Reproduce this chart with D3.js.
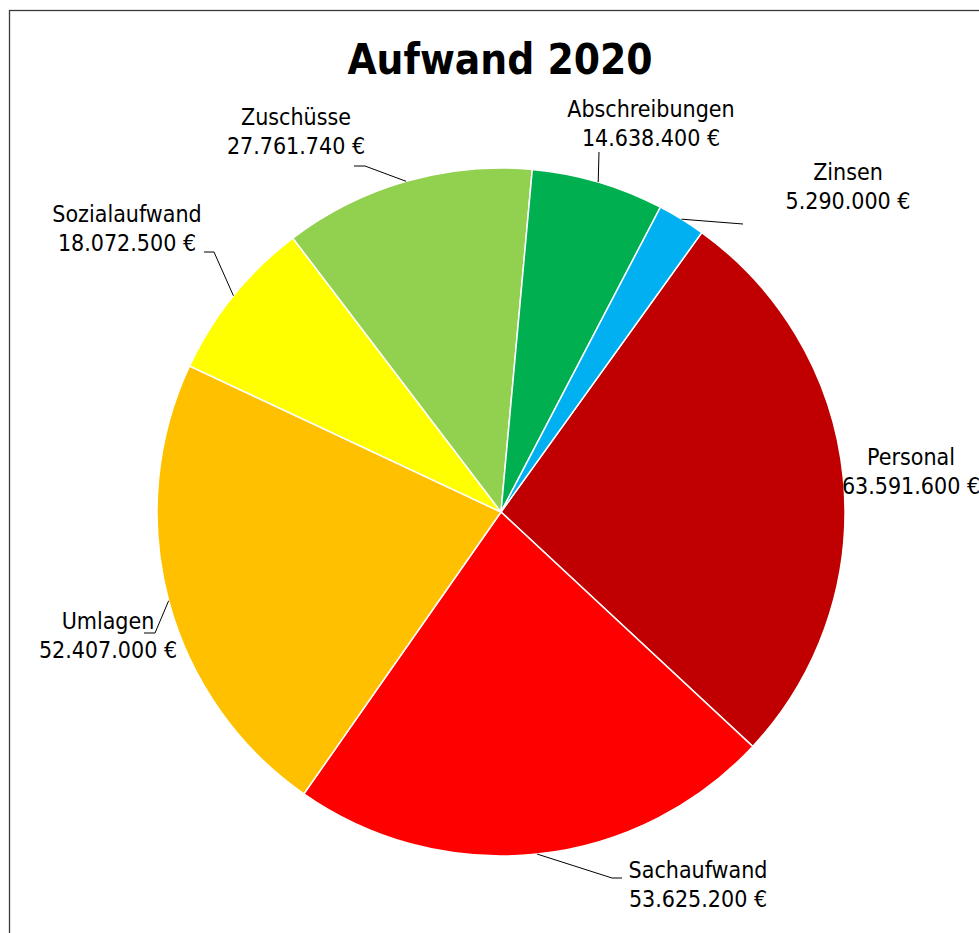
<!DOCTYPE html>
<html>
<head>
<meta charset="utf-8">
<script src="https://cdn.jsdelivr.net/npm/d3@7"></script>
<style>
  body { margin: 0; background: #fff; }
  text { font-family: "DejaVu Sans Condensed", "DejaVu Sans", sans-serif; font-stretch: condensed; fill: #000; }
</style>
</head>
<body>
<div class="visual"></div>
<script>
const categories = ["Personal", "Sachaufwand", "Umlagen", "Sozialaufwand", "Zuschüsse", "Abschreibungen", "Zinsen"];
const values = [63591600, 53625200, 52407000, 18072500, 27761740, 14638400, 5290000];
const colors = ["#c00000", "#ff0000", "#ffc000", "#ffff00", "#92d050", "#00b050", "#00b0f0"];

const width = 979;
const height = 933;
const cx = 501, cy = 512, radius = 344;
const startDeg = 35.7;

// label placement: center x, first baseline, leader points after the pie edge
const labelPos = {
  "Personal": { x: 911, y: 465, leader: [] },
  "Sachaufwand": { x: 698, y: 878, leader: [[612, 878], [622, 878]] },
  "Umlagen": { x: 108, y: 629, leader: [[155, 633], [144, 633]] },
  "Sozialaufwand": { x: 127, y: 222, leader: [[214, 252], [204, 252]] },
  "Zuschüsse": { x: 296, y: 125, leader: [[365, 166], [354, 166]] },
  "Abschreibungen": { x: 651, y: 117, leader: [[599, 152]] },
  "Zinsen": { x: 848, y: 180, leader: [[743, 224]] }
};

const fmt = (v) => d3.format(",")(v).replace(/,/g, ".") + " €";

const svg = d3
  .select(".visual")
  .append("svg")
  .attr("width", width)
  .attr("height", height);

// chart frame
svg.append("rect")
  .attr("x", 9.5)
  .attr("y", 10.5)
  .attr("width", width + 20)
  .attr("height", height + 20)
  .attr("fill", "none")
  .attr("stroke", "#3a3a3a")
  .attr("stroke-width", 1.3);

svg.append("text")
  .attr("x", 500)
  .attr("y", 74)
  .attr("text-anchor", "middle")
  .style("font-size", "42px")
  .style("font-weight", "bold")
  .text("Aufwand 2020");

const data = categories.map((c, i) => ({ name: c, value: values[i], color: colors[i] }));

const a0 = startDeg * Math.PI / 180;
const pie = d3.pie().sort(null).value((d) => d.value)
  .startAngle(a0).endAngle(a0 + 2 * Math.PI);
const arcs = pie(data);

const arc = d3.arc().innerRadius(0).outerRadius(radius);

const g = svg.append("g").attr("transform", `translate(${cx},${cy})`);

g.selectAll("path")
  .data(arcs)
  .enter()
  .append("path")
  .attr("d", arc)
  .attr("fill", (d) => d.data.color)
  .attr("stroke", "white")
  .attr("stroke-width", 1.5);

// leader lines
const edge = (d) => {
  const m = (d.startAngle + d.endAngle) / 2;
  return [cx + radius * Math.sin(m), cy - radius * Math.cos(m)];
};

svg.selectAll("path.leader")
  .data(arcs.filter((d) => labelPos[d.data.name].leader.length))
  .enter()
  .append("path")
  .attr("class", "leader")
  .attr("fill", "none")
  .attr("stroke", "#000")
  .attr("stroke-width", 1)
  .attr("d", (d) => d3.line()([edge(d)].concat(labelPos[d.data.name].leader)));

// data labels
const labels = svg.selectAll("text.lbl")
  .data(arcs)
  .enter()
  .append("text")
  .attr("class", "lbl")
  .attr("text-anchor", "middle")
  .style("font-size", "23px");

labels.append("tspan")
  .attr("x", (d) => labelPos[d.data.name].x)
  .attr("y", (d) => labelPos[d.data.name].y)
  .text((d) => d.data.name);

labels.append("tspan")
  .attr("x", (d) => labelPos[d.data.name].x)
  .attr("y", (d) => labelPos[d.data.name].y + 29)
  .text((d) => fmt(d.data.value));
</script>
</body>
</html>
